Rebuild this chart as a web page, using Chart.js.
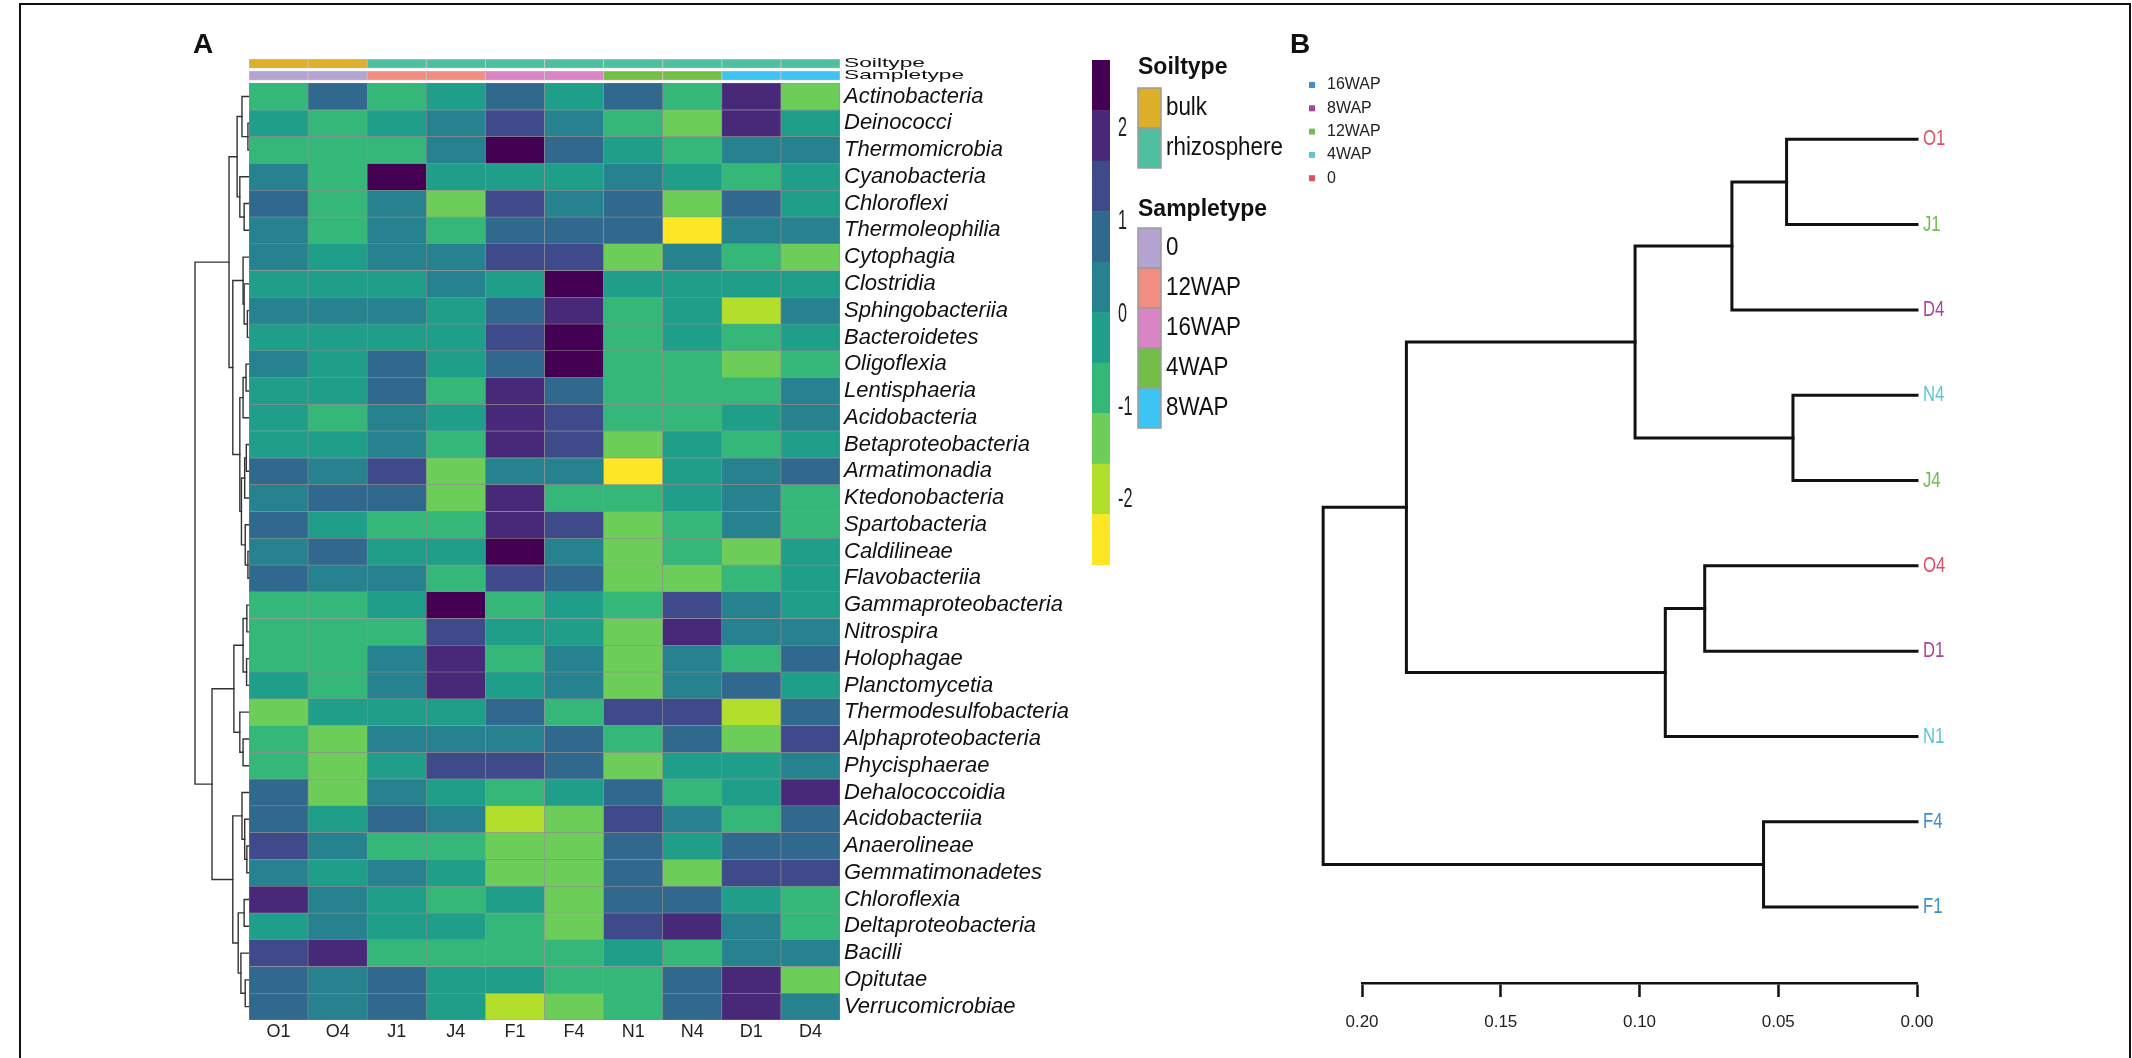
<!DOCTYPE html>
<html lang="en">
<head>
<meta charset="UTF-8">
<title>Class-level heatmap and sample clustering</title>
<script src="https://cdn.jsdelivr.net/npm/chart.js"></script>
<style>
  html, body { margin: 0; padding: 0; background: #fff; }
  #page { position: relative; width: 2132px; height: 1058px; overflow: hidden; }
  #frame { position: absolute; left: 19px; top: 3px; width: 2112px; height: 1100px;
           border: 2px solid #111; box-sizing: border-box; }
  canvas { position: absolute; left: 0; top: 0; }
</style>
</head>
<body>
<div id="page">
  <div id="frame"></div>
  <canvas id="rowTree" width="2132" height="1058"></canvas>
  <canvas id="heat" width="2132" height="1058"></canvas>
  <canvas id="colorKey" width="2132" height="1058"></canvas>
  <canvas id="sampleTree" width="2132" height="1058"></canvas>
</div>
<script>
// ---------- data ----------
const samples    = ['O1', 'O4', 'J1', 'J4', 'F1', 'F4', 'N1', 'N4', 'D1', 'D4'];
const soilType   = ['bulk', 'bulk', 'rhizosphere', 'rhizosphere', 'rhizosphere', 'rhizosphere', 'rhizosphere', 'rhizosphere', 'rhizosphere', 'rhizosphere'];
const sampleType = ['0', '0', '12WAP', '12WAP', '16WAP', '16WAP', '4WAP', '4WAP', '8WAP', '8WAP'];

const classes = [
  'Actinobacteria', 'Deinococci', 'Thermomicrobia', 'Cyanobacteria', 'Chloroflexi',
  'Thermoleophilia', 'Cytophagia', 'Clostridia', 'Sphingobacteriia', 'Bacteroidetes',
  'Oligoflexia', 'Lentisphaeria', 'Acidobacteria', 'Betaproteobacteria', 'Armatimonadia',
  'Ktedonobacteria', 'Spartobacteria', 'Caldilineae', 'Flavobacteriia', 'Gammaproteobacteria',
  'Nitrospira', 'Holophagae', 'Planctomycetia', 'Thermodesulfobacteria', 'Alphaproteobacteria',
  'Phycisphaerae', 'Dehalococcoidia', 'Acidobacteriia', 'Anaerolineae', 'Gemmatimonadetes',
  'Chloroflexia', 'Deltaproteobacteria', 'Bacilli', 'Opitutae', 'Verrucomicrobiae'
];

// row-scaled abundance (z-score), one row per class, columns in sample order
const zscores = [
  [-0.8,  0.8, -0.8, -0.2,  0.8, -0.2,  0.8, -0.8,  1.9, -1.3],
  [-0.2, -0.8, -0.2,  0.3,  1.4,  0.3, -0.8, -1.3,  1.9, -0.2],
  [-0.8, -0.8, -0.8,  0.3,  2.5,  0.8, -0.2, -0.8,  0.3,  0.3],
  [ 0.3, -0.8,  2.5, -0.2, -0.2, -0.2,  0.3, -0.2, -0.8, -0.2],
  [ 0.8, -0.8,  0.3, -1.3,  1.4,  0.3,  0.8, -1.3,  0.8, -0.2],
  [ 0.3, -0.8,  0.3, -0.8,  0.8,  0.8,  0.8, -2.4,  0.3,  0.3],
  [ 0.3, -0.2,  0.3,  0.3,  1.4,  1.4, -1.3,  0.3, -0.8, -1.3],
  [-0.2, -0.2, -0.2,  0.3, -0.2,  2.5, -0.2, -0.2, -0.2, -0.2],
  [ 0.3,  0.3,  0.3, -0.2,  0.8,  1.9, -0.8, -0.2, -1.9,  0.3],
  [-0.2, -0.2, -0.2, -0.2,  1.4,  2.5, -0.8, -0.2, -0.8, -0.2],
  [ 0.3, -0.2,  0.8, -0.2,  0.8,  2.5, -0.8, -0.8, -1.3, -0.8],
  [-0.2, -0.2,  0.8, -0.8,  1.9,  0.8, -0.8, -0.8, -0.8,  0.3],
  [-0.2, -0.8,  0.3, -0.2,  1.9,  1.4, -0.8, -0.8, -0.2,  0.3],
  [-0.2, -0.2,  0.3, -0.8,  1.9,  1.4, -1.3, -0.2, -0.8, -0.2],
  [ 0.8,  0.3,  1.4, -1.3,  0.3,  0.3, -2.4, -0.2,  0.3,  0.8],
  [ 0.3,  0.8,  0.8, -1.3,  1.9, -0.8, -0.8, -0.2,  0.3, -0.8],
  [ 0.8, -0.2, -0.8, -0.8,  1.9,  1.4, -1.3, -0.8,  0.3, -0.8],
  [ 0.3,  0.8, -0.2, -0.2,  2.5,  0.3, -1.3, -0.8, -1.3, -0.2],
  [ 0.8,  0.3,  0.3, -0.8,  1.4,  0.8, -1.3, -1.3, -0.8, -0.2],
  [-0.8, -0.8, -0.2,  2.5, -0.8, -0.2, -0.8,  1.4,  0.3, -0.2],
  [-0.8, -0.8, -0.8,  1.4, -0.2, -0.2, -1.3,  1.9,  0.3,  0.3],
  [-0.8, -0.8,  0.3,  1.9, -0.8,  0.3, -1.3,  0.3, -0.8,  0.8],
  [-0.2, -0.8,  0.3,  1.9, -0.2,  0.3, -1.3,  0.3,  0.8, -0.2],
  [-1.3, -0.2, -0.2, -0.2,  0.8, -0.8,  1.4,  1.4, -1.9,  0.8],
  [-0.8, -1.3,  0.3,  0.3,  0.3,  0.8, -0.8,  0.8, -1.3,  1.4],
  [-0.8, -1.3, -0.2,  1.4,  1.4,  0.8, -1.3, -0.2, -0.2,  0.3],
  [ 0.8, -1.3,  0.3, -0.2, -0.8, -0.2,  0.8, -0.8, -0.2,  1.9],
  [ 0.8, -0.2,  0.8,  0.3, -1.9, -1.3,  1.4,  0.3, -0.8,  0.8],
  [ 1.4,  0.3, -0.8, -0.8, -1.3, -1.3,  0.8, -0.2,  0.8,  0.8],
  [ 0.3, -0.2,  0.3, -0.2, -1.3, -1.3,  0.8, -1.3,  1.4,  1.4],
  [ 1.9,  0.3, -0.2, -0.8, -0.2, -1.3,  0.8,  0.8, -0.2, -0.8],
  [-0.2,  0.3, -0.2, -0.2, -0.8, -1.3,  1.4,  1.9,  0.3, -0.8],
  [ 1.4,  1.9, -0.8, -0.8, -0.8, -0.8, -0.2, -0.8,  0.3,  0.3],
  [ 0.8,  0.3,  0.8, -0.2, -0.2, -0.8, -0.8,  0.8,  1.9, -1.3],
  [ 0.8,  0.3,  0.8, -0.2, -1.9, -1.3, -0.8,  0.8,  1.9,  0.3]
];

// row clustering: [height, left, right], leaves are row indices
const rowTree = [1.0,
  [0.37,
    [0.22, [0.13, 0, [0.02, 1, 2]], [0.17, 3, [0.09, 4, 5]]],
    [0.30,
      [0.11, 6, [0.09, 7, [0.03, 8, 9]]],
      [0.17,
        [0.11, [0.055, 10, 11], 12],
        [0.14, [0.08, [0.05, 13, 14], 15], [0.07, 16, [0.02, 17, 18]]]]]],
  [0.685,
    [0.28,
      [0.11, [0.04, 19, 20], [0.045, 21, 22]],
      [0.17, 23, [0.11, 24, 25]]],
    [0.30,
      [0.13, 26, [0.08, 27, [0.04, 28, 29]]],
      [0.20, [0.09, 30, 31], [0.15, 32, [0.07, 33, 34]]]]]];

// colour key
const keyRange = [-2.70, 2.74];
const keyTicks = [-2, -1, 0, 1, 2];
const keyColors = ['#FDE725', '#B4DE2C', '#6DCD59', '#35B779', '#1F9E89',
                   '#26828E', '#31688E', '#3E4A89', '#482878', '#440154'];

// sample clustering (panel B): [height, left, right]
const sampleTree = [0.214,
  [0.184,
    [0.1016, [0.0667, [0.047, 'O1', 'J1'], 'D4'], [0.0447, 'N4', 'J4']],
    [0.0907, [0.0765, 'O4', 'D1'], 'N1']],
  [0.0553, 'F4', 'F1']];
const treeTicks = [0, 0.05, 0.10, 0.15, 0.20];
const groupOrderB = ['16WAP', '8WAP', '12WAP', '4WAP', '0'];

// ---------- styles ----------
const FONT = '"Liberation Sans", Arial, sans-serif';
const soilColors = { bulk: '#DEAF29', rhizosphere: '#4EBF9F' };
const typeColors = { '0': '#B5A4D2', '12WAP': '#F28E81', '16WAP': '#D985C5', '4WAP': '#73BE46', '8WAP': '#3CC4F2' };
const groupColorsB = { '16WAP': '#3D8FD1', '8WAP': '#A9449D', '12WAP': '#70BD52', '4WAP': '#5CC5D0', '0': '#E04F68' };

// strip rows sit above the heatmap, in row units
const strips = [
  { label: 'Soiltype', span: [-0.9, -0.56], colors: soilType.map(s => soilColors[s]) },
  { label: 'Sampletype', span: [-0.45, -0.11], colors: sampleType.map(s => typeColors[s]) }
];

function keyColor(v) {
  const step = (keyRange[1] - keyRange[0]) / keyColors.length;
  const k = Math.floor((v - keyRange[0]) / step);
  return keyColors[Math.max(0, Math.min(keyColors.length - 1, k))];
}

function leavesOf(node) {
  return Array.isArray(node) ? [...leavesOf(node[1]), ...leavesOf(node[2])] : [node];
}

// turn a tree into bracket polylines (x = height, y = leaf position)
function treeLinks(node, pos, out) {
  if (!Array.isArray(node)) return { y: pos(node), h: 0 };
  const [h, a, b] = node;
  const L = treeLinks(a, pos, out), R = treeLinks(b, pos, out);
  out.push([{ x: L.h, y: L.y }, { x: h, y: L.y }, { x: h, y: R.y }, { x: R.h, y: R.y }]);
  return { y: (L.y + R.y) / 2, h };
}

function lineSets(links, color, width) {
  return links.map(pts => ({
    data: pts, showLine: true, borderColor: color, borderWidth: width,
    pointRadius: 0, clip: false, borderJoinStyle: 'miter', borderCapStyle: 'square'
  }));
}

// text squeezed horizontally, the original figure uses condensed lettering
function squeezed(ctx, text, x, y, sx) {
  ctx.save();
  ctx.translate(x, y);
  ctx.scale(sx, 1);
  ctx.fillText(text, 0, 0);
  ctx.restore();
}

const noPlugins = { legend: { display: false }, tooltip: { enabled: false } };

// ---------- heatmap (panel A) ----------
const heatText = {
  id: 'heatText',
  afterDraw(chart) {
    const { ctx, chartArea, scales: { y } } = chart;
    ctx.save();
    ctx.fillStyle = '#111';
    ctx.font = 'bold 28px ' + FONT;
    ctx.textBaseline = 'alphabetic';
    ctx.fillText('A', 193, 53);
    ctx.font = '13px ' + FONT;
    ctx.textBaseline = 'middle';
    strips.forEach(s => {
      squeezed(ctx, s.label, chartArea.right + 4, y.getPixelForValue((s.span[0] + s.span[1]) / 2), 1.75);
    });
    ctx.restore();
  }
};

const stripSets = strips.map(s => ({
  label: s.label,
  data: samples.map(() => s.span),
  backgroundColor: s.colors,
  borderColor: '#c4c4c4', borderWidth: 0.8
}));

const cellSets = classes.map((name, r) => ({
  label: name,
  data: samples.map(() => [r, r + 1]),
  backgroundColor: zscores[r].map(keyColor),
  borderColor: '#8e8e8e', borderWidth: 0.6
}));

new Chart(document.getElementById('heat'), {
  type: 'bar',
  data: { labels: samples, datasets: [...stripSets, ...cellSets] },
  options: {
    responsive: false, animation: false,
    layout: { padding: { left: 249, top: 59, right: 992, bottom: 8 } },
    plugins: noPlugins,
    datasets: { bar: { grouped: false, barPercentage: 1, categoryPercentage: 1, borderSkipped: false } },
    scales: {
      x: {
        grid: { display: false, drawTicks: false }, border: { display: false },
        ticks: { padding: 1, color: '#222', font: { family: FONT, size: 18 } },
        afterFit: s => { s.height = 30; }
      },
      y: {
        type: 'linear', min: -0.9, max: 35, reverse: true, position: 'right',
        grid: { display: false, drawTicks: false }, border: { display: false },
        afterBuildTicks: s => { s.ticks = classes.map((_, i) => ({ value: i + 0.5 })); },
        ticks: {
          autoSkip: false, padding: 4, color: '#111',
          font: { family: FONT, size: 22, style: 'italic' },
          callback: (v, i) => classes[i]
        },
        afterFit: s => { s.width = 300; }
      }
    }
  },
  plugins: [heatText]
});

// ---------- row dendrogram ----------
const rowLinks = [];
treeLinks(rowTree, i => i + 0.5, rowLinks);

new Chart(document.getElementById('rowTree'), {
  type: 'scatter',
  data: { datasets: lineSets(rowLinks, '#333', 1.4) },
  options: {
    responsive: false, animation: false,
    layout: { padding: { left: 195, top: 59, right: 2132 - 249, bottom: 38 } },
    plugins: noPlugins,
    scales: {
      x: { type: 'linear', min: 0, max: 1, reverse: true, display: false },
      y: { type: 'linear', min: -0.9, max: 35, reverse: true, display: false }
    }
  }
});

// ---------- colour key and annotation legend ----------
const legendA = {
  id: 'legendA',
  afterDraw(chart) {
    const { ctx, chartArea, scales: { y } } = chart;
    ctx.save();
    ctx.textBaseline = 'middle';
    ctx.fillStyle = '#222';
    ctx.font = '27px ' + FONT;
    keyTicks.forEach(v => squeezed(ctx, String(v), chartArea.right + 8, y.getPixelForValue(v), 0.6));

    const x = 1138, w = 23, h = 40;
    const block = (title, titleY, keys, colors, top) => {
      ctx.fillStyle = '#111';
      ctx.font = 'bold 23px ' + FONT;
      ctx.fillText(title, x, titleY);
      keys.forEach((k, i) => {
        const y0 = top + i * h;
        ctx.fillStyle = colors[k];
        ctx.fillRect(x, y0, w, h);
        ctx.strokeStyle = '#9c9c9c';
        ctx.lineWidth = 1.5;
        ctx.strokeRect(x, y0, w, h);
        ctx.fillStyle = '#111';
        ctx.font = '26px ' + FONT;
        squeezed(ctx, k, x + w + 5, y0 + h / 2, 0.86);
      });
    };
    block('Soiltype', 68, [...new Set(soilType)].sort(), soilColors, 88);
    block('Sampletype', 210, [...new Set(sampleType)].sort(), typeColors, 228);
    ctx.restore();
  }
};

const keyStep = (keyRange[1] - keyRange[0]) / keyColors.length;
new Chart(document.getElementById('colorKey'), {
  type: 'bar',
  data: {
    labels: [''],
    datasets: keyColors.map((c, k) => ({
      data: [[keyRange[0] + k * keyStep, keyRange[0] + (k + 1) * keyStep]],
      backgroundColor: c, borderWidth: 0
    }))
  },
  options: {
    responsive: false, animation: false,
    layout: { padding: { left: 1092, top: 60, right: 2132 - 1110, bottom: 1058 - 565 } },
    plugins: noPlugins,
    datasets: { bar: { grouped: false, barPercentage: 1, categoryPercentage: 1 } },
    scales: {
      x: { display: false },
      y: { type: 'linear', min: keyRange[0], max: keyRange[1], display: false }
    }
  },
  plugins: [legendA]
});

// ---------- sample dendrogram (panel B) ----------
const leavesB = leavesOf(sampleTree);
const sampleLinks = [];
treeLinks(sampleTree, n => leavesB.indexOf(n), sampleLinks);
const leafGroup = n => sampleType[samples.indexOf(n)];

const legendB = {
  id: 'legendB',
  afterDraw(chart) {
    const { ctx, chartArea, scales: { y } } = chart;
    ctx.save();
    ctx.fillStyle = '#111';
    ctx.font = 'bold 28px ' + FONT;
    ctx.textBaseline = 'alphabetic';
    ctx.fillText('B', 1290, 53);
    ctx.textBaseline = 'middle';
    ctx.font = '16px ' + FONT;
    groupOrderB.forEach((g, i) => {
      const yy = 85 + i * 23.3;
      ctx.fillStyle = groupColorsB[g];
      ctx.fillRect(1309, yy - 3, 6, 6);
      ctx.fillStyle = '#222';
      ctx.fillText(g, 1327, yy);
    });
    // leaf labels, coloured by sample type
    ctx.font = '22px ' + FONT;
    leavesB.forEach((n, i) => {
      ctx.fillStyle = groupColorsB[leafGroup(n)];
      squeezed(ctx, n, chartArea.right + 6, y.getPixelForValue(i), 0.76);
    });
    ctx.restore();
  }
};

new Chart(document.getElementById('sampleTree'), {
  type: 'scatter',
  data: { datasets: lineSets(sampleLinks, '#111', 3) },
  options: {
    responsive: false, animation: false,
    layout: { padding: { left: 1362, top: 54, right: 2132 - 1917, bottom: 5 } },
    plugins: noPlugins,
    scales: {
      x: {
        type: 'linear', min: 0, max: 0.2, reverse: true, position: 'bottom',
        border: { display: true, color: '#111', width: 2.5 },
        grid: { drawOnChartArea: false, drawTicks: true, tickLength: 14, tickColor: '#111', tickWidth: 2.5 },
        afterBuildTicks: s => { s.ticks = treeTicks.map(v => ({ value: v })); },
        ticks: { padding: 15, color: '#222', font: { family: FONT, size: 17 }, callback: v => v.toFixed(2) },
        afterFit: s => { s.height = 70; }
      },
      y: { type: 'linear', min: -1, max: 9.89, reverse: true, display: false }
    }
  },
  plugins: [legendB]
});
</script>
</body>
</html>
